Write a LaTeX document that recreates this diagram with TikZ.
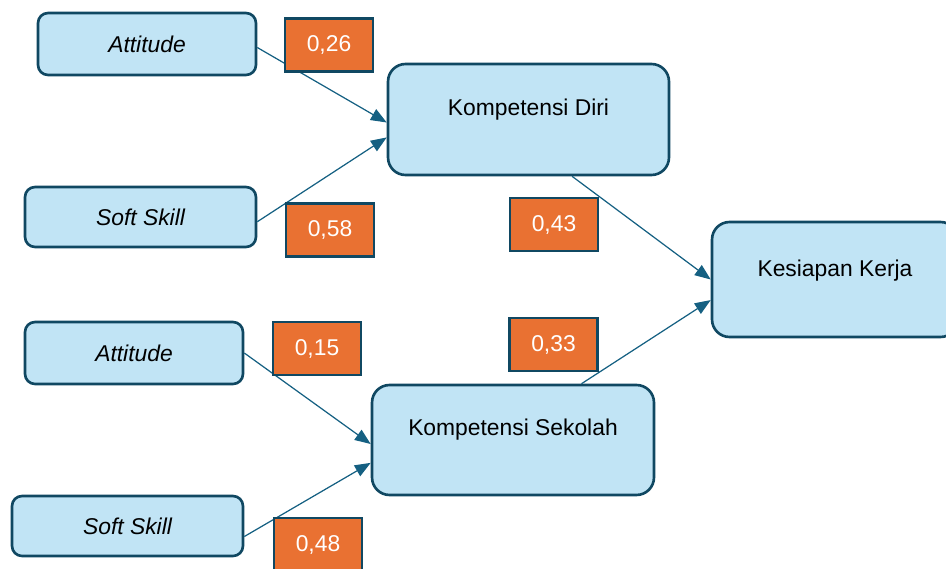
\documentclass[tikz,border=0pt]{standalone}
\usepackage{fontspec}
\setmainfont{Liberation Sans}
\usetikzlibrary{arrows.meta}
\definecolor{boxfill}{HTML}{C1E4F5}
\definecolor{boxline}{HTML}{104862}
\definecolor{arrowline}{HTML}{156082}
\definecolor{coefffill}{HTML}{E97132}
\begin{document}
\begin{tikzpicture}[x=0.02cm, y=-0.02cm,
  varbox/.style={draw=boxline, fill=boxfill, line width=1.5pt, rounded corners=0.2cm,
    minimum width=4.36cm, minimum height=1.24cm, font=\fontsize{13}{15}\selectfont\itshape},
  latentbox/.style={draw=boxline, fill=boxfill, line width=1.5pt, rounded corners=0.35cm,
    minimum width=5.62cm, minimum height=2.22cm},
  latenttext/.style={font=\fontsize{13}{15}\selectfont},
  coeff/.style={draw=boxline, fill=coefffill, line width=1.2pt, text=white,
    minimum width=1.76cm, minimum height=1.06cm, font=\fontsize{13}{15}\selectfont},
  path/.style={draw=arrowline, line width=0.7pt, -{Triangle[length=9pt,width=7pt]}}]
\useasboundingbox (0,0) rectangle (946,568);
\node [varbox] (att1) at (147,44) {Attitude};
\node [varbox, minimum width=4.62cm, minimum height=1.2cm] (ss1) at (140.5,217) {Soft Skill};
\node [varbox] (att2) at (134,353) {Attitude};
\node [varbox, minimum width=4.62cm, minimum height=1.2cm] (ss2) at (127.5,526) {Soft Skill};
\node [latentbox] (kd) at (528.5,119.5) {};
\node [latentbox, minimum width=5.64cm, minimum height=2.2cm] (ks) at (513,440) {};
\node [latentbox, minimum width=4.92cm, minimum height=2.3cm] (kk) at (835,279.5) {};
\node [latenttext] (kdtext) at ([yshift=-26.8pt]kd.north) {Kompetensi Diri};
\node [latenttext] (kstext) at ([yshift=-26.3pt]ks.north) {Kompetensi Sekolah};
\node [latenttext] (kktext) at ([yshift=-28.2pt]kk.north) {Kesiapan Kerja};
\draw [path] ([yshift=-2pt]att1.east) -- ([yshift=-1.7pt]kd.west);
\draw [path] ([yshift=-2.7pt]ss1.east) -- ([yshift=-10.2pt]kd.west);
\draw [path] (att2.east) -- ([yshift=-2.3pt]ks.west);
\draw [path] ([yshift=-6pt]ss2.east) -- ([yshift=-13pt]ks.west);
\draw [path] ([xshift=24.8pt]kd.south) -- (kk.west);
\draw [path] ([xshift=39pt]ks.north) -- ([yshift=-11.7pt]kk.west);
\node [coeff] (c1) at (329,45) {0,26};
\node [coeff] (c2) at (330,230) {0,58};
\node [coeff] (c3) at (317,348.5) {0,15};
\node [coeff] (c4) at (318,544.5) {0,48};
\node [coeff] (c5) at (554,224.5) {0,43};
\node [coeff] (c6) at (553.5,344.5) {0,33};
\end{tikzpicture}
\end{document}
